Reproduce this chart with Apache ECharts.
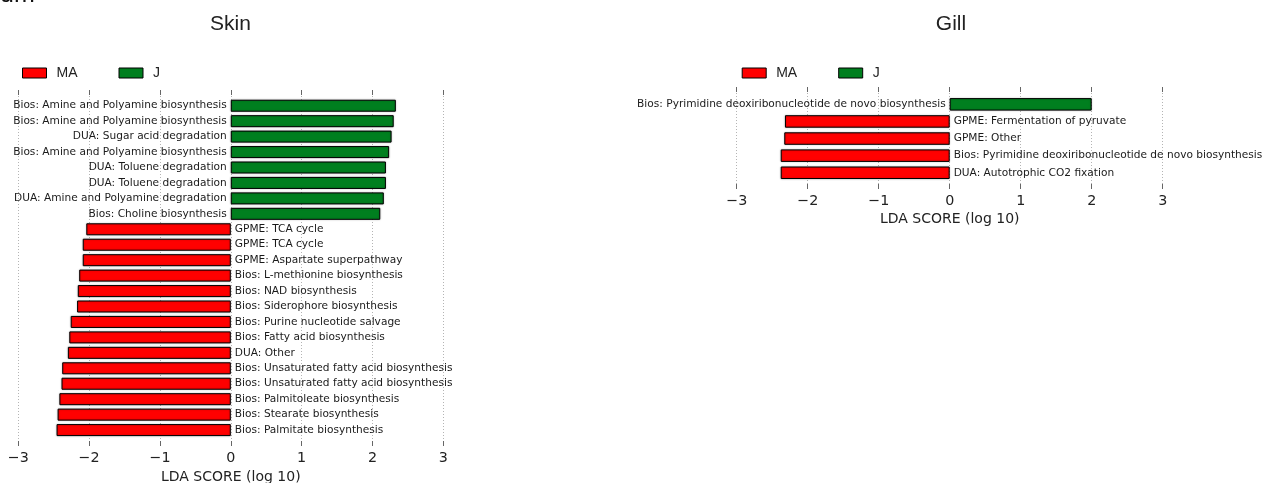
<!DOCTYPE html>
<html>
<head>
<meta charset="utf-8">
<script src="https://cdn.jsdelivr.net/npm/echarts@6/dist/echarts.min.js"></script>
<style>
html,body{margin:0;padding:0;background:#fff;}
#chart{width:1262px;height:483px;}
</style>
</head>
<body>
<div id="chart"></div>
<script>
const skinCategories = [
  'Bios: Amine and Polyamine biosynthesis',
  'Bios: Amine and Polyamine biosynthesis',
  'DUA: Sugar acid degradation',
  'Bios: Amine and Polyamine biosynthesis',
  'DUA: Toluene degradation',
  'DUA: Toluene degradation',
  'DUA: Amine and Polyamine degradation',
  'Bios: Choline biosynthesis',
  'GPME: TCA cycle',
  'GPME: TCA cycle',
  'GPME: Aspartate superpathway',
  'Bios: L-methionine biosynthesis',
  'Bios: NAD biosynthesis',
  'Bios: Siderophore biosynthesis',
  'Bios: Purine nucleotide salvage',
  'Bios: Fatty acid biosynthesis',
  'DUA: Other',
  'Bios: Unsaturated fatty acid biosynthesis',
  'Bios: Unsaturated fatty acid biosynthesis',
  'Bios: Palmitoleate biosynthesis',
  'Bios: Stearate biosynthesis',
  'Bios: Palmitate biosynthesis'
];
const skinValues = [2.33, 2.30, 2.27, 2.235, 2.19, 2.19, 2.16, 2.11,
  -2.04, -2.09, -2.09, -2.14, -2.16, -2.17, -2.26, -2.28, -2.30,
  -2.38, -2.39, -2.42, -2.445, -2.46];

const gillCategories = [
  'Bios: Pyrimidine deoxiribonucleotide de novo biosynthesis',
  'GPME: Fermentation of pyruvate',
  'GPME: Other',
  'Bios: Pyrimidine deoxiribonucleotide de novo biosynthesis',
  'DUA: Autotrophic CO2 fixation'
];
const gillValues = [2.0, -2.32, -2.33, -2.38, -2.38];

const groupNames = ['MA', 'J'];
const xTicks = [-3, -2, -1, 0, 1, 2, 3];
const axisName = 'LDA SCORE (log 10)';
const panelTitles = ['Skin', 'Gill'];

const RED = '#ff0000', GREEN = '#007f1f';
const LABEL_FONT = 'DejaVu Sans';

function tickFmt(v) { return v < 0 ? '\u2212' + Math.abs(v) : String(v); }

const grids = [
  {left: 18.3, top: 90, width: 425, height: 356},     // skin frame
  {left: 18.3, top: 98, width: 425, height: 339.8},   // skin bars
  {left: 736.7, top: 87, width: 426, height: 102},    // gill frame
  {left: 736.7, top: 95.8, width: 426, height: 85.5}  // gill bars
].map(g => Object.assign({containLabel: false, outerBoundsMode: 'none'}, g));

const xMin = xTicks[0], xMax = xTicks[xTicks.length - 1], xInt = 1;
function frameX(gridIndex, pos, showLabels) {
  return {
    type: 'value', gridIndex, position: pos, min: xMin, max: xMax, interval: xInt,
    axisLine: {show: false},
    axisTick: {show: true, inside: true, length: 5, lineStyle: {color: '#666', width: 1}},
    splitLine: {show: pos === 'bottom', lineStyle: {color: '#b4b4b4', type: [1, 2], width: 1}},
    axisLabel: {show: showLabels, formatter: tickFmt, fontFamily: LABEL_FONT, fontSize: 14.3, color: '#222', margin: 5},
    name: showLabels ? axisName : '', nameLocation: 'middle', nameGap: 23,
    nameTextStyle: {fontFamily: LABEL_FONT, fontSize: 14, color: '#222'}
  };
}
function hiddenX(gridIndex) {
  return {type: 'value', gridIndex, min: xMin, max: xMax, interval: xInt, show: false,
    splitLine: {show: false}};
}

const xAxes = [
  frameX(0, 'bottom', true), frameX(0, 'top', false), hiddenX(1),
  frameX(2, 'bottom', true), frameX(2, 'top', false), hiddenX(3)
];
const yAxes = [
  {type: 'value', gridIndex: 0, show: false, splitLine: {show: false}},
  {type: 'category', gridIndex: 1, show: false, inverse: true, data: skinCategories.map((c, i) => i)},
  {type: 'value', gridIndex: 2, show: false, splitLine: {show: false}},
  {type: 'category', gridIndex: 3, show: false, inverse: true, data: gillCategories.map((c, i) => i)}
];

function barSeries(name, values, cats, xi, yi, positive, barW) {
  return {
    type: 'bar', name, xAxisIndex: xi, yAxisIndex: yi,
    data: values.map(v => (positive ? v > 0 : v < 0) ? v : '-'),
    barWidth: barW, barGap: '-100%',
    itemStyle: {color: positive ? GREEN : RED, borderColor: '#000', borderWidth: 1,
      shadowColor: 'rgba(0,0,0,0.25)', shadowBlur: 2},
    label: {show: true, position: positive ? 'left' : 'right', distance: 4,
      formatter: p => cats[p.dataIndex], fontFamily: LABEL_FONT, fontSize: 10.6, color: '#1a1a1a'},
    emphasis: {disabled: true}, silent: true
  };
}

const series = [
  barSeries(groupNames[0], skinValues, skinCategories, 2, 1, false, 12),
  barSeries(groupNames[1], skinValues, skinCategories, 2, 1, true, 12),
  barSeries(groupNames[0], gillValues, gillCategories, 5, 3, false, 12.5),
  barSeries(groupNames[1], gillValues, gillCategories, 5, 3, true, 12.5)
];

function legendAt(left) {
  return {
    left, top: 66, padding: 0, icon: 'rect', itemWidth: 24, itemHeight: 10, itemGap: 41,
    data: groupNames, selectedMode: false,
    itemStyle: {borderColor: '#000', borderWidth: 1, shadowBlur: 0},
    textStyle: {fontFamily: 'Liberation Sans', fontSize: 14, color: '#222', padding: [0, 0, 0, 5]}
  };
}

const chart = echarts.init(document.getElementById('chart'), null, {renderer: 'canvas'});
chart.setOption({
  animation: false,
  backgroundColor: '#fff',
  grid: grids,
  xAxis: xAxes,
  yAxis: yAxes,
  series,
  legend: [legendAt(22), legendAt(741.7)],
  graphic: [
    {type: 'text', x: 0, y: -4.8, style: {text: 'um', font: '25px "Liberation Sans"', fill: '#111', textAlign: 'left', textVerticalAlign: 'middle'}},
    {type: 'text', x: 230.5, y: 24, style: {text: panelTitles[0], font: '21px "Liberation Sans"', fill: '#222', textAlign: 'center', textVerticalAlign: 'middle'}},
    {type: 'text', x: 951, y: 24, style: {text: panelTitles[1], font: '21px "Liberation Sans"', fill: '#222', textAlign: 'center', textVerticalAlign: 'middle'}}
  ]
});
</script>
</body>
</html>
